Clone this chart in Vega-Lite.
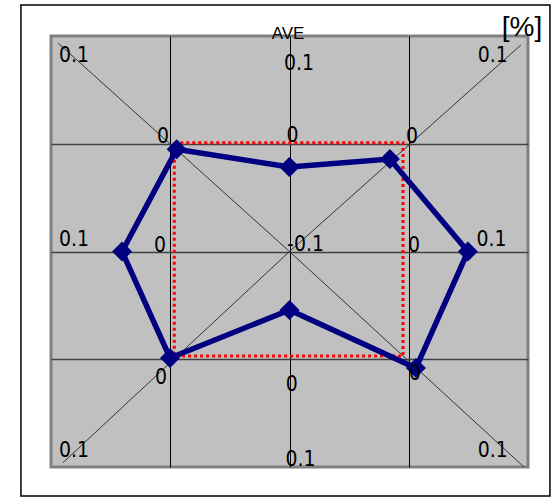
{
  "$schema": "https://vega.github.io/schema/vega-lite/v6.json",
  "width": 477,
  "height": 431,
  "autosize": "none",
  "padding": {"left": 51, "top": 36, "right": 30, "bottom": 30},
  "background": "white",
  "config": {
    "view": {"fill": "#C0C0C0", "stroke": "#808080", "strokeWidth": 3},
    "text": {"font": "Liberation Sans Narrow, DejaVu Sans Condensed, Liberation Sans", "fontSize": 21, "color": "black"}
  },
  "datasets": {
    "one": [{"k": 1}],
    "poly": [
      {"i": 0, "axis": "top", "x": 0, "y": 0.392},
      {"i": 1, "axis": "top-right", "x": 0.421, "y": 0.429},
      {"i": 2, "axis": "right", "x": 0.748, "y": 0},
      {"i": 3, "axis": "bottom-right", "x": 0.53, "y": -0.541},
      {"i": 4, "axis": "bottom", "x": 0, "y": -0.271},
      {"i": 5, "axis": "bottom-left", "x": -0.501, "y": -0.494},
      {"i": 6, "axis": "left", "x": -0.702, "y": 0},
      {"i": 7, "axis": "top-left", "x": -0.473, "y": 0.474},
      {"i": 8, "axis": "top", "x": 0, "y": 0.392}
    ],
    "square": [
      {"i": 0, "x": -0.483, "y": 0.505},
      {"i": 1, "x": 0.476, "y": 0.505},
      {"i": 2, "x": 0.476, "y": -0.485},
      {"i": 3, "x": -0.483, "y": -0.485},
      {"i": 4, "x": -0.483, "y": 0.505}
    ],
    "diag": [
      {"x": 0, "y": 0, "x2": -0.97, "y2": 0.967},
      {"x": 0, "y": 0, "x2": 0.97, "y2": 0.958},
      {"x": 0, "y": 0, "x2": -0.95, "y2": -0.98},
      {"x": 0, "y": 0, "x2": 0.983, "y2": -1.0}
    ],
    "labels": [
      {"t": "0.1", "x": -0.904, "y": 0.907},
      {"t": "0.1", "x": 0.852, "y": 0.907},
      {"t": "0.1", "x": -0.904, "y": -0.926},
      {"t": "0.1", "x": 0.852, "y": -0.926},
      {"t": "0.1", "x": 0.04, "y": 0.87},
      {"t": "0.1", "x": 0.046, "y": -0.969},
      {"t": "0.1", "x": -0.904, "y": 0.053},
      {"t": "0.1", "x": 0.847, "y": 0.053},
      {"t": "0", "x": 0.013, "y": 0.536},
      {"t": "0", "x": -0.53, "y": 0.531},
      {"t": "0", "x": 0.514, "y": 0.531},
      {"t": "0", "x": -0.543, "y": 0.026},
      {"t": "0", "x": 0.522, "y": 0.026},
      {"t": "0", "x": -0.539, "y": -0.587},
      {"t": "0", "x": 0.01, "y": -0.62},
      {"t": "0", "x": 0.526, "y": -0.568},
      {"t": "-0.1", "x": 0.067, "y": 0.03}
    ]
  },
  "layer": [
    {
      "data": {"name": "one"},
      "mark": {"type": "rect", "fill": null, "stroke": "black", "strokeWidth": 1.5, "clip": false},
      "encoding": {
        "x": {"datum": -1.126, "type": "quantitative", "scale": {"domain": [-1, 1], "nice": false, "zero": false},
          "axis": {"grid": true, "gridColor": "black", "gridWidth": 1, "values": [-0.5, 0, 0.5], "labels": false, "ticks": false, "domain": false, "title": null}},
        "x2": {"datum": 1.092},
        "y": {"datum": 1.144, "type": "quantitative", "scale": {"domain": [-1, 1], "nice": false, "zero": false},
          "axis": {"grid": true, "gridColor": "#404040", "gridWidth": 1.5, "values": [-0.5, 0, 0.5], "labels": false, "ticks": false, "domain": false, "title": null}},
        "y2": {"datum": -1.135}
      }
    },
    {
      "data": {"name": "diag"},
      "mark": {"type": "rule", "color": "#333333", "strokeWidth": 1},
      "encoding": {
        "x": {"field": "x", "type": "quantitative"},
        "y": {"field": "y", "type": "quantitative"},
        "x2": {"field": "x2"},
        "y2": {"field": "y2"}
      }
    },
    {
      "data": {"name": "square"},
      "mark": {"type": "line", "color": "#FF0000", "strokeWidth": 3, "strokeDash": [3, 3]},
      "encoding": {
        "x": {"field": "x", "type": "quantitative"},
        "y": {"field": "y", "type": "quantitative"},
        "order": {"field": "i"}
      }
    },
    {
      "data": {"name": "poly"},
      "mark": {"type": "line", "color": "#000080", "strokeWidth": 5.5},
      "encoding": {
        "x": {"field": "x", "type": "quantitative"},
        "y": {"field": "y", "type": "quantitative"},
        "order": {"field": "i"}
      }
    },
    {
      "data": {"name": "poly"},
      "mark": {"type": "point", "shape": "diamond", "filled": true, "color": "#000080", "size": 400, "opacity": 1},
      "encoding": {
        "x": {"field": "x", "type": "quantitative"},
        "y": {"field": "y", "type": "quantitative"}
      }
    },
    {
      "data": {"name": "labels"},
      "mark": {"type": "text", "align": "center", "baseline": "middle"},
      "encoding": {
        "x": {"field": "x", "type": "quantitative"},
        "y": {"field": "y", "type": "quantitative"},
        "text": {"field": "t"}
      }
    },
    {
      "data": {"name": "one"},
      "mark": {"type": "text", "align": "center", "baseline": "middle", "fontSize": 17, "font": "Liberation Sans"},
      "encoding": {
        "x": {"datum": -0.006, "type": "quantitative"},
        "y": {"datum": 1.01, "type": "quantitative"},
        "text": {"value": "AVE"}
      }
    },
    {
      "data": {"name": "one"},
      "mark": {"type": "text", "align": "center", "baseline": "middle", "fontSize": 28, "font": "Liberation Sans"},
      "encoding": {
        "x": {"datum": 0.975, "type": "quantitative"},
        "y": {"datum": 1.037, "type": "quantitative"},
        "text": {"value": "[%]"}
      }
    }
  ]
}
